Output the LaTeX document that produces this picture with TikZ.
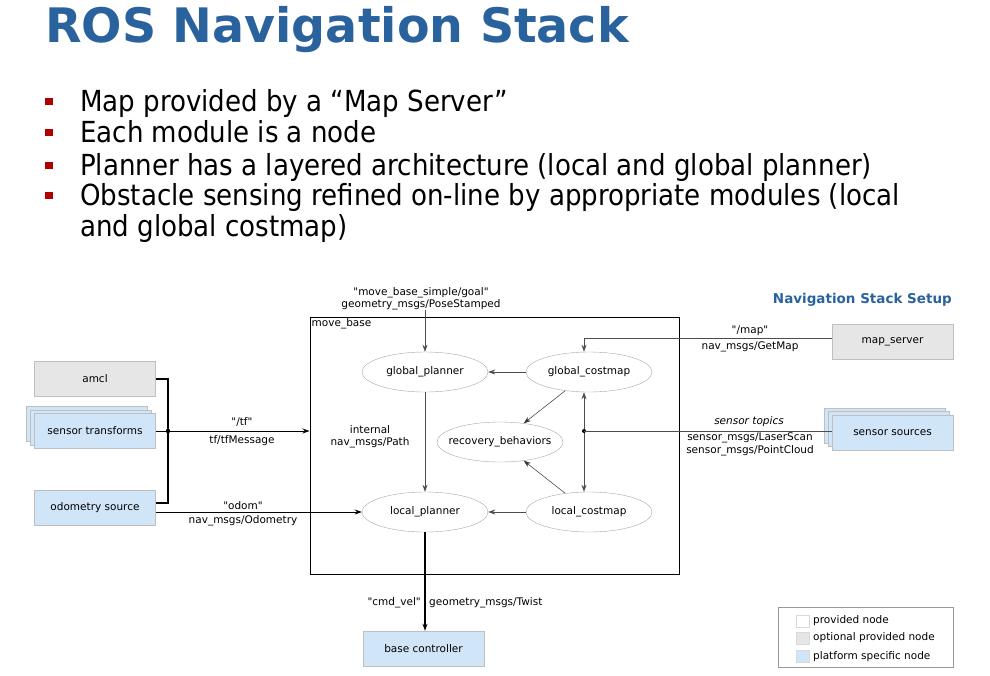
\documentclass[tikz,border=0pt]{standalone}
\usepackage{fontspec}
\setmainfont{DejaVu Sans}
\newfontfamily\diagfont{DejaVu Sans}
\newfontfamily\condfont{DejaVu Sans Condensed}
\usetikzlibrary{shapes,arrows.meta,positioning}

\definecolor{titleblue}{RGB}{42,98,158}
\definecolor{bulletred}{RGB}{176,0,0}
\definecolor{optgray}{RGB}{230,230,230}
\definecolor{platblue}{RGB}{209,229,249}

\begin{document}
\begin{tikzpicture}[x=1pt, y=-1pt, >={Stealth[length=7pt,width=5pt]},
    box/.style={draw=black!25, rectangle, minimum width=121pt, minimum height=35pt, font=\diagfont\fontsize{10.5}{12}\selectfont},
    optbox/.style={box, fill=optgray},
    platbox/.style={box, fill=platblue},
    proc/.style={draw=black!35, ellipse, minimum width=126pt, minimum height=40pt, inner xsep=0pt, font=\diagfont\fontsize{10.5}{12}\selectfont},
    lbl/.style={font=\diagfont\fontsize{10.5}{12}\selectfont, inner sep=0pt, align=center},
    bullet/.style={fill=bulletred, inner sep=0pt, minimum width=8pt, minimum height=7pt},
    bulletline/.style={anchor=base west, inner sep=0pt, text height=21pt, text depth=4pt, font=\condfont\fontsize{29}{29}\selectfont},
    legkey/.style={draw=black!15, minimum width=13pt, minimum height=12pt, inner sep=0pt},
    bus/.style={line width=1.6pt},
    flow/.style={->, black!70, line width=0.8pt}]

\useasboundingbox (0,0) rectangle (990,675);

% title and bullet list
\node (title) [anchor=base west, inner sep=0pt, text=titleblue, font=\bfseries\fontsize{47.5}{48}\selectfont] at (45,42) {ROS Navigation Stack};

\foreach \y in {111,142,175,205}
    \node (sq\y) [bullet] at (48.5,\y-9.5) {};
\node (b1) [bulletline] at (80,111) {Map provided by a “Map Server”};
\node (b2) [bulletline] at (80,142) {Each module is a node};
\node (b3) [bulletline] at (80,175) {Planner has a layered architecture (local and global planner)};
\node (b4) [bulletline] at (80,205) {Obstacle sensing refined on-line by appropriate modules (local};
\node (b4b) [bulletline] at (80,236) {and global costmap)};

\node (setup) [anchor=base east, inner sep=0pt, text=titleblue, font=\bfseries\fontsize{13.5}{14}\selectfont] at (952,303) {Navigation Stack Setup};

% move_base and its internals
\node (movebase) [draw, line width=1pt, minimum width=369pt, minimum height=257pt, inner sep=0pt] at (494.5,445.5) {};
\node (mblabel) [lbl, anchor=north west, inner sep=2pt] at (movebase.north west) {move\_base};

\node (gplan) [proc] at (425,372) {global\_planner};
\node (gcost) [proc] at (589,372) {global\_costmap};
\node (recov) [proc, inner xsep=-10pt] at (500,442) {recovery\_behaviors};
\node (lplan) [proc] at (425,512) {local\_planner};
\node (lcost) [proc] at (589,512) {local\_costmap};

\node (goal) [lbl] at (421,299) {"move\_base\_simple/goal"\\geometry\_msgs/PoseStamped};
\draw[flow] (goal.south -| gplan) -- (gplan);

\draw[flow] (gcost) -- (gplan);
\draw[flow] (gplan) -- (lplan);
\draw[flow] (lcost) -- (lplan);
\draw[->, black!80, line width=0.5pt] (gcost) -- (recov);
\draw[->, black!80, line width=0.5pt] (lcost) -- (recov);
\node (path) [lbl] at (370,437) {internal\\nav\_msgs/Path};

\coordinate (junc) at (584,431);
\draw[<->, black!70, line width=0.8pt] (gcost.south -| junc) -- (lcost.north -| junc);
\fill (junc) circle (2pt);

% map server and sensors
\node (mapsrv) [optbox] at (892.5,342) {map\_server};
\draw[flow] ([yshift=4pt]mapsrv.west) -| (gcost.north -| junc);
\node (maptopic) [lbl] at (750,331) {"/map"};
\node (mapmsg) [lbl] at (750,347) {nav\_msgs/GetMap};

\coordinate (senspos) at (892.5,432.5);
\node (sens3) [platbox] at ([shift={(-8,-7)}]senspos) {};
\node (sens2) [platbox] at ([shift={(-4,-3.5)}]senspos) {};
\node (sens) [platbox] at (senspos) {sensor sources};
\draw[black!70, line width=0.8pt] (sens.west |- junc) -- (junc);
\node (senstopic) [lbl] at (749,422) {\itshape sensor topics};
\node (sensmsg) [lbl] at (750,444) {sensor\_msgs/LaserScan\\[1pt]sensor\_msgs/PointCloud};

% left side inputs
\node (amcl) [optbox] at (95,379) {amcl};
\coordinate (transpos) at (95,431);
\node (trans3) [platbox] at ([shift={(-8,-7)}]transpos) {};
\node (trans2) [platbox] at ([shift={(-4,-3.5)}]transpos) {};
\node (trans) [platbox] at (transpos) {sensor transforms};
\node (odomsrc) [platbox] at (95,508) {odometry source};

\coordinate (tfjunc) at (168,431);
\draw[bus] (amcl.east) -| (tfjunc) |- ([yshift=5pt]odomsrc.east);
\draw[->, line width=0.8pt] (trans.east) -- (trans.east -| movebase.west);
\fill (tfjunc) circle (2.2pt);
\node (tftopic) [lbl] at (242,422) {"/tf"};
\node (tfmsg) [lbl] at (242,441) {tf/tfMessage};

\draw[->, line width=0.8pt] (odomsrc.east |- lplan.west) -- (lplan.west);
\node (odomtopic) [lbl] at (243,506) {"odom"};
\node (odommsg) [lbl] at (243,521) {nav\_msgs/Odometry};

% output to the base
\node (basectl) [platbox] at (423.5,648.5) {base controller};
\draw[->, line width=1.6pt] (lplan.south) -- (lplan.south |- basectl.north);
\node (cmdtopic) [lbl, anchor=east] at (421,603) {"cmd\_vel"};
\node (cmdmsg) [lbl, anchor=west] at (429,603) {geometry\_msgs/Twist};

% legend
\node (legend) [draw=black!40, minimum width=175pt, minimum height=60pt] at (865.5,637) {};
\node (keyprov) [legkey, fill=white] at (803,621) {};
\node (keyopt) [legkey, fill=optgray] at (803,638) {};
\node (keyplat) [legkey, fill=platblue] at (803,656.5) {};
\node (txtprov) [lbl, anchor=west] at (813,621) {provided node};
\node (txtopt) [lbl, anchor=west] at (813,638) {optional provided node};
\node (txtplat) [lbl, anchor=west] at (813,656.5) {platform specific node};
\end{tikzpicture}
\end{document}
